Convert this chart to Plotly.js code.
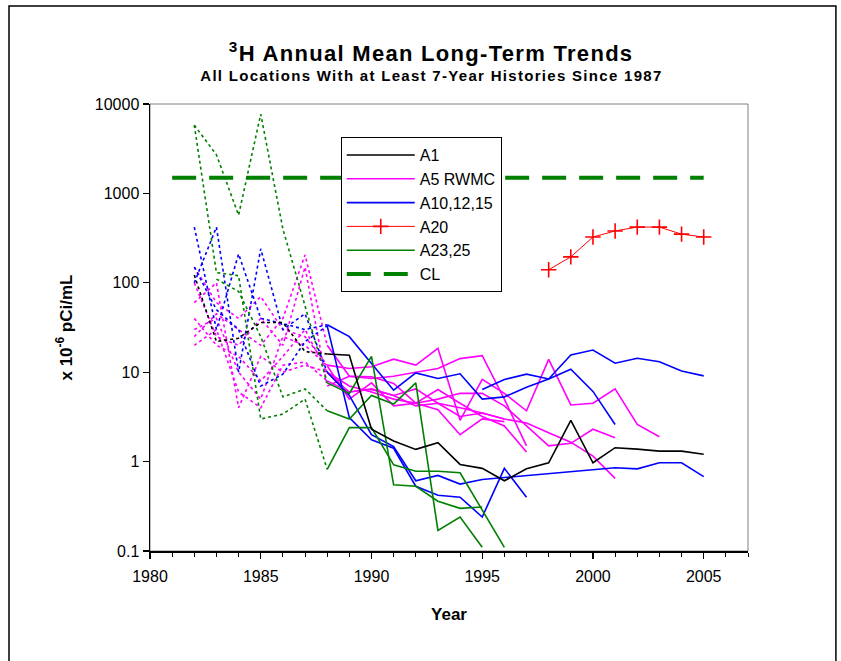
<!DOCTYPE html>
<html><head><meta charset="utf-8">
<script src="https://cdn.plot.ly/plotly-3.0.1.min.js"></script>
<style>html,body{margin:0;padding:0;background:#fff}#chart{width:841px;height:661px}
#chart text.annotation-text{letter-spacing:1.3px}
</style>
</head><body><div id="chart"></div>
<script>
// ---- data (values in x 10^-6 pCi/mL), each list starts at its start year ----
const splitYear = 1988; // dotted before, solid from here on

const a1Start = 1982;
const a1Values = [122, 22, 24, 36, 36, 17, 16, 15.5, 2.3, 1.7, 1.37, 1.63, 0.93, 0.84, 0.61, 0.83, 0.97, 2.9, 0.97, 1.43, 1.38, 1.31, 1.31, 1.21];

const a5Start = 1982;
const a5Series1 = [150, 60, 40, 70, 30, 25, 12, 11, 11.5, 14, 12, 18.5, 2.9, 8.3, 5.8, 3.7, 13.9, 4.3, 4.5, 6.5, 2.6, 1.9];
const a5Series2 = [25, 45, 30, 20, 40, 205, 20, 9, 8.5, 9, 10, 11, 14.2, 15.3, 5, 1.5];
const a5Series3 = [60, 100, 4, 15, 10, 12, 10, 7, 6, 5, 4.5, 6.4, 4.5, 3.2, 2.5, 1.28];
const a5Series4 = [20, 30, 6, 4, 12, 13, 8, 6, 6.5, 5.5, 4.2, 4.5, 4, 3.5, 3.0, 2.7, 2.1, 1.65, 1.15, 0.65];
const a5Series5 = [100, 25, 20, 40, 20, 150, 7, 9, 8.9, 7.5, 4.5, 5, 5.8, 5.8, 4.2, 2.5, 1.5, 1.6, 2.3, 1.85];
const a5Series6 = [30, 40, 10, 5, 25, 20, 11.8, 5, 7.6, 4.2, 4.5, 3.8, 2.0, 3.0, 2.8];
const a5Series7 = [40, 20, 15, 8, 15, 30, 9.9, 6, 6.4, 5.5, 6.5, 4.5, 3.2, 3.5, 3.0];

const a10Start = 1982;
const a10Series1 = [420, 30, 210, 40, 35, 30, 34, 25, 12.5, 6.3, 9.8, 8.5, 9.6, 5.0, 5.3, 6.8, 8.4, 10.8, 6.1, 2.6];
const a10Series3 = [100, 420, 10, 240, 30, 45, 10, 5.5, 2.0, 1.47, 0.61, 0.70, 0.56, 0.63, null, null, null, null, null, 0.855, 0.83, 0.97, 0.97, 0.68];
const a10Series4 = [150, 50, 30, 7, 9.5, 22, 33, 3.1, 1.75, 1.41, 0.53, 0.42, 0.40, 0.24, 0.84, 0.40];
const a10Series2Start = 1995;
const a10Series2 = [6.4, 8.3, 9.5, 8.4, 15.6, 17.7, 12.6, 14.3, 13.1, 10.3, 9.1];

const a20Start = 1998;
const a20Values = [140, 195, 325, 380, 420, 420, 350, 325];

const a23Start = 1982;
const a23Series1 = [5800, 2700, 570, 7700, 400, 55, 7.6, 5.8, 15, 0.55, 0.53, 0.36, 0.30, 0.31];
const a23Series3 = [5800, 130, 120, 3.0, 3.4, 5, 0.82, 2.4, 2.4, 0.92, 0.78, 0.78, 0.75, 0.29, 0.11];
const a23Series2Start = 1983;
const a23Series2 = [110, 80, 25, 5.3, 6.5, 3.7, 3.0, 5.5, 4.4, 7.6, 0.17, 0.24, 0.11];

const clYears = [1981, 2005];
const clValues = [1500, 1500];

const legendNames = ["A1", "A5 RWMC", "A10,12,15", "A20", "A23,25", "CL"];
const xTickYears = [1980, 1985, 1990, 1995, 2000, 2005];
const yTickValues = [0.1, 1, 10, 100, 1000, 10000];
const yTickLabels = ["0.1", "1", "10", "100", "1000", "10000"];

// ---- build traces ----
const FONT = 'Arial, "Liberation Sans", sans-serif';
const traces = [];
function yearsFrom(start, n) { const a = []; for (let i = 0; i < n; i++) a.push(start + i); return a; }

function addSeries(start, values, color, group, showLegend, rank) {
  const yrs = yearsFrom(start, values.length);
  const preX = [], preY = [], postX = [], postY = [];
  yrs.forEach((yr, i) => {
    if (yr <= splitYear) { preX.push(yr); preY.push(values[i]); }
    if (yr >= splitYear) { postX.push(yr); postY.push(values[i]); }
  });
  if (preX.length > 1) {
    traces.push({x: preX, y: preY, type: 'scatter', mode: 'lines', legendgroup: group, showlegend: false,
      line: {color: color, width: 1.6, dash: 'dot'}, hoverinfo: 'skip'});
  }
  if (postX.length > 1) {
    traces.push({x: postX, y: postY, type: 'scatter', mode: 'lines', name: group, legendgroup: group,
      showlegend: showLegend, legendrank: rank, connectgaps: true,
      line: {color: color, width: 1.6}});
  }
}

const BLACK = '#000000', MAG = '#FF00FF', BLUE = '#0000FF', RED = '#FF0000', GREEN = '#008000';

[a5Series1, a5Series2, a5Series3, a5Series4, a5Series5, a5Series6, a5Series7].forEach((s, i) =>
  addSeries(a5Start, s, MAG, legendNames[1], i === 0, 2));
addSeries(a10Start, a10Series1, BLUE, legendNames[2], true, 3);
addSeries(a10Start, a10Series3, BLUE, legendNames[2], false, 3);
addSeries(a10Start, a10Series4, BLUE, legendNames[2], false, 3);
addSeries(a10Series2Start, a10Series2, BLUE, legendNames[2], false, 3);
addSeries(a23Start, a23Series1, GREEN, legendNames[4], true, 5);
addSeries(a23Start, a23Series3, GREEN, legendNames[4], false, 5);
addSeries(a23Series2Start, a23Series2, GREEN, legendNames[4], false, 5);
addSeries(a1Start, a1Values, BLACK, legendNames[0], true, 1);

traces.push({x: yearsFrom(a20Start, a20Values.length), y: a20Values, type: 'scatter', mode: 'lines+markers',
  name: legendNames[3], legendrank: 4, line: {color: RED, width: 1},
  marker: {symbol: 'cross-thin', size: 11, color: RED, line: {color: RED, width: 1.6}}});

traces.push({x: clYears, y: clValues, type: 'scatter', mode: 'lines', name: legendNames[5], legendrank: 6,
  line: {color: GREEN, width: 4, dash: '24px,13px'}});

const layout = {
  width: 841, height: 661,
  margin: {l: 150, r: 93, t: 104, b: 110},
  paper_bgcolor: '#fff', plot_bgcolor: '#fff',
  font: {family: FONT, color: '#000', size: 16},
  showlegend: true,
  legend: {x: 0.319, y: 0.926, xanchor: 'left', yanchor: 'top', bgcolor: '#fff', itemwidth: 68,
    bordercolor: '#000', borderwidth: 1, font: {family: FONT, size: 16, color: '#000'}, traceorder: 'normal'},
  xaxis: {range: [1980, 2007], tickvals: xTickYears, ticks: 'outside', ticklen: 6, tickwidth: 1.2, tickcolor: '#000',
    showline: true, linecolor: '#000', linewidth: 1.5, showgrid: false, zeroline: false, ticklabelstandoff: 4,
    tickfont: {family: FONT, size: 16},
    minor: {dtick: 1, tick0: 1980, ticks: 'outside', ticklen: 4, tickwidth: 1, tickcolor: '#000', showgrid: false},
    title: {text: '<b>Year</b>', font: {family: FONT, size: 17}, standoff: 24}},
  yaxis: {type: 'log', range: [-1, 4], tickvals: yTickValues, ticktext: yTickLabels, ticks: 'outside', ticklen: 6,
    tickwidth: 1.2, tickcolor: '#000', showline: true, linecolor: '#000', linewidth: 1.5, showgrid: false, zeroline: false,
    tickfont: {family: FONT, size: 16},
    title: {text: '<b>x 10<sup>-6</sup> pCi/mL</b>', font: {family: FONT, size: 17}, standoff: 18}},
  shapes: [
    {type: 'rect', xref: 'paper', yref: 'paper', x0: 0, x1: 1, y0: 0, y1: 1, line: {color: '#808080', width: 1}, layer: 'below'},
    {type: 'rect', xref: 'paper', yref: 'paper', x0: -0.2358, x1: 1.147, y0: -0.3, y1: 1.219, line: {color: '#000', width: 1.5}}
  ],
  annotations: [
    {xref: 'paper', yref: 'paper', x: 0.47, y: 1.117, xanchor: 'center', yanchor: 'middle', showarrow: false,
      text: '<b><sup>3</sup>H Annual Mean Long-Term Trends</b>', font: {family: FONT, size: 22, color: '#000'}},
    {xref: 'paper', yref: 'paper', x: 0.47, y: 1.063, xanchor: 'center', yanchor: 'middle', showarrow: false,
      text: '<b>All Locations With at Least 7-Year Histories Since 1987</b>', font: {family: FONT, size: 15, color: '#000'}}
  ]
};

Plotly.newPlot('chart', traces, layout, {displayModeBar: false, staticPlot: true});
</script></body></html>
